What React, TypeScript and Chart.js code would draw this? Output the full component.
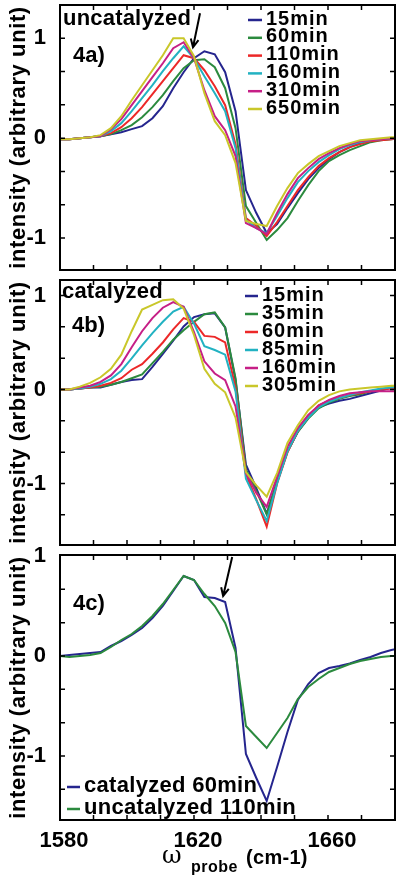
import React, { useEffect, useRef } from "react";
import { Chart, registerables } from "chart.js";

Chart.register(...registerables);

const FONT = '"Liberation Sans", Arial, sans-serif';

// probe frequency grid (cm-1)
const WAVENUMBER = [1579.7, 1582.8, 1585.9, 1589.0, 1592.1, 1595.2, 1598.3, 1601.4, 1604.5, 1607.6, 1610.7, 1613.8, 1616.9, 1620.0, 1623.1, 1626.2, 1629.3, 1632.4, 1635.5, 1638.6, 1641.7, 1644.8, 1647.9, 1651.0, 1654.1, 1657.2, 1660.3, 1663.4, 1666.5, 1669.6, 1672.7, 1675.8, 1678.9, 1682.0];

const X_TICKS = [1580, 1590, 1600, 1610, 1620, 1630, 1640, 1650, 1660, 1670, 1680];
const X_LABELS = [1580, 1620, 1660];
const Y_TICKS_A = [-1, -0.6667, -0.3333, 0, 0.3333, 0.6667, 1];
const Y_TICKS_BC = [-1.3333, -1, -0.6667, -0.3333, 0, 0.3333, 0.6667, 1];
const Y_LABELS = [-1, 0, 1];

// 4a) uncatalyzed
const LABELS_A = ["15min", "60min", "110min", "160min", "310min", "650min"];
const UNCAT_15 = [-0.01, -0.01, 0.00, 0.01, 0.02, 0.04, 0.06, 0.09, 0.12, 0.20, 0.32, 0.50, 0.66, 0.80, 0.87, 0.84, 0.66, 0.27, -0.52, -0.75, -0.95, -0.86, -0.70, -0.55, -0.41, -0.30, -0.21, -0.14, -0.09, -0.05, -0.03, -0.01, 0.00, 0.00];
const UNCAT_60 = [-0.01, -0.01, 0.00, 0.01, 0.02, 0.04, 0.08, 0.13, 0.21, 0.31, 0.43, 0.57, 0.70, 0.78, 0.79, 0.71, 0.50, 0.10, -0.68, -0.85, -1.02, -0.92, -0.80, -0.63, -0.47, -0.33, -0.23, -0.17, -0.12, -0.08, -0.04, -0.02, -0.01, 0.00];
const UNCAT_110 = [-0.01, -0.01, 0.00, 0.01, 0.02, 0.05, 0.11, 0.20, 0.31, 0.44, 0.57, 0.70, 0.83, 0.80, 0.68, 0.52, 0.33, -0.06, -0.80, -0.88, -0.98, -0.84, -0.68, -0.52, -0.39, -0.28, -0.20, -0.14, -0.09, -0.06, -0.03, -0.02, -0.01, 0.00];
const UNCAT_160 = [-0.01, -0.01, 0.00, 0.01, 0.02, 0.07, 0.15, 0.27, 0.40, 0.53, 0.67, 0.80, 0.92, 0.80, 0.62, 0.45, 0.27, -0.10, -0.82, -0.90, -0.95, -0.78, -0.60, -0.44, -0.33, -0.24, -0.17, -0.11, -0.07, -0.04, -0.02, -0.01, 0.00, 0.00];
const UNCAT_310 = [-0.01, -0.01, 0.00, 0.01, 0.02, 0.09, 0.19, 0.33, 0.47, 0.61, 0.75, 0.90, 0.96, 0.80, 0.48, 0.22, 0.08, -0.18, -0.85, -0.90, -0.96, -0.75, -0.56, -0.40, -0.30, -0.21, -0.15, -0.10, -0.06, -0.03, -0.02, -0.01, 0.00, 0.00];
const UNCAT_650 = [-0.01, -0.01, 0.00, 0.01, 0.03, 0.10, 0.22, 0.38, 0.53, 0.68, 0.83, 1.00, 1.00, 0.82, 0.45, 0.17, 0.03, -0.25, -0.83, -0.86, -0.88, -0.68, -0.50, -0.35, -0.26, -0.18, -0.13, -0.08, -0.05, -0.02, -0.01, 0.00, 0.01, 0.01];

// 4b) catalyzed
const LABELS_B = ["15min", "35min", "60min", "85min", "160min", "305min"];
const CAT_15 = [0.00, 0.00, 0.01, 0.02, 0.02, 0.05, 0.08, 0.10, 0.11, 0.24, 0.38, 0.52, 0.67, 0.77, 0.80, 0.81, 0.66, 0.10, -0.80, -1.05, -1.32, -0.98, -0.66, -0.45, -0.30, -0.19, -0.15, -0.12, -0.10, -0.07, -0.04, -0.01, 0.02, 0.03];
const CAT_35 = [0.00, 0.00, 0.01, 0.02, 0.03, 0.05, 0.08, 0.12, 0.16, 0.28, 0.40, 0.53, 0.63, 0.72, 0.80, 0.82, 0.66, 0.12, -0.85, -1.08, -1.33, -0.98, -0.66, -0.45, -0.31, -0.20, -0.14, -0.10, -0.07, -0.05, -0.02, 0.00, 0.02, 0.03];
const CAT_60 = [0.00, 0.00, 0.01, 0.02, 0.04, 0.07, 0.12, 0.21, 0.27, 0.38, 0.50, 0.64, 0.76, 0.72, 0.57, 0.56, 0.50, 0.02, -0.90, -1.17, -1.46, -1.00, -0.67, -0.44, -0.29, -0.17, -0.12, -0.09, -0.06, -0.04, -0.02, 0.00, 0.01, 0.02];
const CAT_85 = [0.00, 0.00, 0.01, 0.03, 0.06, 0.11, 0.20, 0.33, 0.47, 0.60, 0.72, 0.83, 0.88, 0.70, 0.46, 0.42, 0.37, -0.02, -0.95, -1.18, -1.40, -1.00, -0.66, -0.44, -0.30, -0.19, -0.13, -0.09, -0.06, -0.03, -0.01, 0.01, 0.02, 0.03];
const CAT_160 = [0.00, 0.00, 0.02, 0.04, 0.08, 0.15, 0.27, 0.45, 0.62, 0.76, 0.87, 0.93, 0.88, 0.61, 0.30, 0.17, 0.10, -0.18, -0.89, -1.10, -1.25, -0.93, -0.61, -0.41, -0.27, -0.17, -0.11, -0.07, -0.04, -0.03, -0.02, -0.02, -0.02, -0.02];
const CAT_305 = [0.00, 0.00, 0.03, 0.07, 0.13, 0.22, 0.37, 0.62, 0.85, 0.90, 0.95, 0.96, 0.86, 0.58, 0.22, 0.06, -0.03, -0.30, -0.88, -1.02, -1.14, -0.89, -0.57, -0.38, -0.22, -0.12, -0.06, -0.02, 0.00, 0.01, 0.02, 0.03, 0.04, 0.04];

// 4c) comparison
const LABELS_C = ["catalyzed 60min", "uncatalyzed 110min"];
const CMP_CAT_60 = [0.00, 0.01, 0.02, 0.03, 0.04, 0.10, 0.15, 0.21, 0.28, 0.38, 0.50, 0.65, 0.80, 0.76, 0.59, 0.58, 0.54, 0.08, -0.98, -1.22, -1.45, -1.11, -0.76, -0.44, -0.28, -0.17, -0.12, -0.10, -0.075, -0.04, -0.01, 0.03, 0.06, 0.08];
const CMP_UNCAT_110 = [0.00, -0.01, 0.00, 0.01, 0.03, 0.09, 0.16, 0.22, 0.30, 0.40, 0.52, 0.66, 0.80, 0.76, 0.62, 0.50, 0.33, 0.04, -0.70, -0.81, -0.92, -0.77, -0.62, -0.43, -0.31, -0.23, -0.16, -0.12, -0.08, -0.05, -0.03, -0.01, 0.00, 0.00];

const NAVY = "#25258e";
const GREEN = "#2b8a3e";
const RED = "#ec2828";
const CYAN = "#22b2c2";
const MAGENTA = "#c61f86";
const YELLOW = "#c9c72a";
const SIX_COLORS = [NAVY, GREEN, RED, CYAN, MAGENTA, YELLOW];

const Y_TITLE = "intensity (arbitrary unit)";

type Note = { text: string; x: number; y: number; size: number; spacing: number; family?: string; weight?: string };
type Legend = { lineX: number; lineLen: number; textX: number; y: number; dy: number; size: number; spacing: number };
type Arrow = { from: [number, number]; to: [number, number] };
type PanelCfg = {
  top: number; height: number; padTop: number; xAxisH: number;
  yMin: number; yMax: number; yTicks: number[];
  labels: string[]; colors: string[]; series: number[][];
  showX: boolean; notes: Note[]; legend: Legend; arrow?: Arrow;
};

function makeDecor(cfg: PanelCfg) {
  return {
    id: "decor",
    afterDraw(chart: any) {
      const { ctx, chartArea: a, scales } = chart;
      const xs = scales.x;
      const ys = scales.y;
      ctx.save();
      ctx.strokeStyle = "#000";
      ctx.fillStyle = "#000";
      // inward tick marks
      ctx.lineWidth = 1.5;
      ctx.beginPath();
      for (const v of cfg.yTicks) {
        const p = ys.getPixelForValue(v);
        if (p < a.top + 2 || p > a.bottom - 2) continue;
        ctx.moveTo(a.left, p); ctx.lineTo(a.left + 5, p);
        ctx.moveTo(a.right, p); ctx.lineTo(a.right - 5, p);
      }
      for (const v of X_TICKS) {
        const p = xs.getPixelForValue(v);
        if (p < a.left + 2 || p > a.right - 2) continue;
        ctx.moveTo(p, a.top); ctx.lineTo(p, a.top + 5);
        ctx.moveTo(p, a.bottom); ctx.lineTo(p, a.bottom - 5);
      }
      ctx.stroke();
      // frame
      ctx.lineWidth = 2;
      ctx.strokeRect(a.left, a.top, a.right - a.left, a.bottom - a.top);

      // y axis title
      ctx.save();
      ctx.translate(25, (a.top + a.bottom) / 2);
      ctx.rotate(-Math.PI / 2);
      ctx.font = `bold 22px ${FONT}`;
      (ctx as any).letterSpacing = "0.6px";
      ctx.textAlign = "center";
      ctx.textBaseline = "alphabetic";
      ctx.fillText(Y_TITLE, 0, 0);
      ctx.restore();

      // notes
      for (const n of cfg.notes) {
        ctx.font = `${n.weight ?? "bold"} ${n.size}px ${n.family ?? FONT}`;
        (ctx as any).letterSpacing = `${n.spacing}px`;
        ctx.textAlign = "left";
        ctx.textBaseline = "alphabetic";
        ctx.fillText(n.text, n.x, n.y - cfg.top);
      }

      // legend
      const L = cfg.legend;
      ctx.font = `bold ${L.size}px ${FONT}`;
      (ctx as any).letterSpacing = `${L.spacing}px`;
      ctx.textBaseline = "middle";
      ctx.textAlign = "left";
      cfg.labels.forEach((lab, i) => {
        const y = L.y + i * L.dy - cfg.top;
        ctx.strokeStyle = cfg.colors[i];
        ctx.lineWidth = 2.5;
        ctx.beginPath();
        ctx.moveTo(L.lineX, y + 1);
        ctx.lineTo(L.lineX + L.lineLen, y + 1);
        ctx.stroke();
        ctx.fillStyle = "#000";
        ctx.fillText(lab, L.textX, y);
      });
      (ctx as any).letterSpacing = "0px";

      // arrow
      if (cfg.arrow) {
        const x0 = xs.getPixelForValue(cfg.arrow.from[0]);
        const y0 = ys.getPixelForValue(cfg.arrow.from[1]);
        const x1 = xs.getPixelForValue(cfg.arrow.to[0]);
        const y1 = ys.getPixelForValue(cfg.arrow.to[1]);
        const ang = Math.atan2(y1 - y0, x1 - x0);
        ctx.strokeStyle = "#000";
        ctx.lineWidth = 2;
        ctx.beginPath();
        ctx.moveTo(x0, y0); ctx.lineTo(x1, y1);
        const h = 9;
        ctx.moveTo(x1 - h * Math.cos(ang - 0.45), y1 - h * Math.sin(ang - 0.45));
        ctx.lineTo(x1, y1);
        ctx.lineTo(x1 - h * Math.cos(ang + 0.45), y1 - h * Math.sin(ang + 0.45));
        ctx.stroke();
      }
      ctx.restore();
    },
  };
}

function Panel({ cfg }: { cfg: PanelCfg }) {
  const ref = useRef<HTMLCanvasElement | null>(null);
  useEffect(() => {
    const canvas = ref.current;
    if (!canvas) return;
    const n = cfg.series.length;
    const chart = new Chart(canvas, {
      type: "line",
      data: {
        datasets: cfg.series.map((s, i) => ({
          label: cfg.labels[i],
          data: WAVENUMBER.map((x, j) => ({ x, y: s[j] })),
          borderColor: cfg.colors[i],
          backgroundColor: cfg.colors[i],
          borderWidth: 2,
          pointRadius: 0,
          tension: 0,
          fill: false,
          order: n - i,
        })),
      },
      options: {
        animation: false,
        responsive: false,
        devicePixelRatio: 1,
        layout: { padding: { top: cfg.padTop, right: 5, left: 0, bottom: 0 } },
        plugins: { legend: { display: false }, tooltip: { enabled: false } },
        scales: {
          x: {
            type: "linear",
            min: 1580,
            max: 1680,
            afterBuildTicks: (ax: any) => { ax.ticks = X_TICKS.map((v) => ({ value: v })); },
            afterFit: (s: any) => { s.height = cfg.xAxisH; s.paddingLeft = 0; s.paddingRight = 0; },
            ticks: {
              display: cfg.showX,
              autoSkip: false,
              maxRotation: 0,
              padding: 0,
              labelOffset: 4,
              color: "#000",
              font: { family: FONT, size: 22, weight: "bold" },
              callback: (v: any) => (X_LABELS.includes(Number(v)) ? String(v) : ""),
            },
            grid: { display: false },
            border: { display: false },
          },
          y: {
            type: "linear",
            min: cfg.yMin,
            max: cfg.yMax,
            afterBuildTicks: (ax: any) => { ax.ticks = cfg.yTicks.map((v) => ({ value: v })); },
            afterFit: (s: any) => { s.width = 60; s.paddingTop = 0; s.paddingBottom = 0; },
            ticks: {
              autoSkip: false,
              padding: 6,
              color: "#000",
              font: { family: FONT, size: 22, weight: "bold" },
              callback: (v: any) => {
                const r = Math.round(Number(v));
                return Math.abs(Number(v) - r) < 1e-3 && Y_LABELS.includes(r) ? String(r) : "";
              },
            },
            grid: { display: false },
            border: { display: false },
          },
        },
      } as any,
      plugins: [makeDecor(cfg)],
    });
    return () => chart.destroy();
  }, [cfg]);
  return (
    <canvas
      ref={ref}
      width={400}
      height={cfg.height}
      style={{ position: "absolute", left: 0, top: cfg.top, width: 400, height: cfg.height }}
    />
  );
}

const PANEL_A: PanelCfg = {
  top: 0, height: 280, padTop: 5, xAxisH: 10,
  yMin: -1.32, yMax: 1.333, yTicks: Y_TICKS_A,
  labels: LABELS_A, colors: SIX_COLORS,
  series: [UNCAT_15, UNCAT_60, UNCAT_110, UNCAT_160, UNCAT_310, UNCAT_650],
  showX: false,
  notes: [
    { text: "uncatalyzed", x: 63, y: 25, size: 22, spacing: 0.2 },
    { text: "4a)", x: 73, y: 62, size: 22, spacing: 0 },
  ],
  legend: { lineX: 248, lineLen: 14, textX: 266, y: 19, dy: 17.8, size: 20, spacing: 1 },
  arrow: { from: [1621.8, 1.25], to: [1619.7, 0.91] },
};

const PANEL_B: PanelCfg = {
  top: 265, height: 290, padTop: 15, xAxisH: 10,
  yMin: -1.655, yMax: 1.165, yTicks: Y_TICKS_BC,
  labels: LABELS_B, colors: SIX_COLORS,
  series: [CAT_15, CAT_35, CAT_60, CAT_85, CAT_160, CAT_305],
  showX: false,
  notes: [
    { text: "catalyzed", x: 62, y: 298, size: 22, spacing: 0.2 },
    { text: "4b)", x: 72, y: 332, size: 22, spacing: 0 },
  ],
  legend: { lineX: 245, lineLen: 13, textX: 262, y: 295, dy: 18, size: 20, spacing: 1 },
};

const PANEL_C: PanelCfg = {
  top: 535, height: 345, padTop: 20, xAxisH: 60,
  yMin: -1.64, yMax: 1.01, yTicks: Y_TICKS_BC,
  labels: LABELS_C, colors: [NAVY, GREEN],
  series: [CMP_CAT_60, CMP_UNCAT_110],
  showX: true,
  notes: [
    { text: "4c)", x: 73, y: 610, size: 22, spacing: 0 },
    { text: "\u03c9", x: 162, y: 863, size: 24, spacing: 0, family: '"DejaVu Serif", serif', weight: "normal" },
    { text: "probe", x: 191, y: 872, size: 16, spacing: 0.5 },
    { text: "(cm-1)", x: 246, y: 864, size: 20, spacing: 0.3 },
  ],
  legend: { lineX: 67, lineLen: 13, textX: 84, y: 786, dy: 22, size: 22, spacing: 0.3 },
  arrow: { from: [1631.4, 0.99], to: [1628.7, 0.6] },
};

export default function App() {
  return (
    <div style={{ position: "absolute", left: 0, top: 0, width: 400, height: 880, background: "#fff", overflow: "hidden" }}>
      <Panel cfg={PANEL_A} />
      <Panel cfg={PANEL_B} />
      <Panel cfg={PANEL_C} />
    </div>
  );
}
